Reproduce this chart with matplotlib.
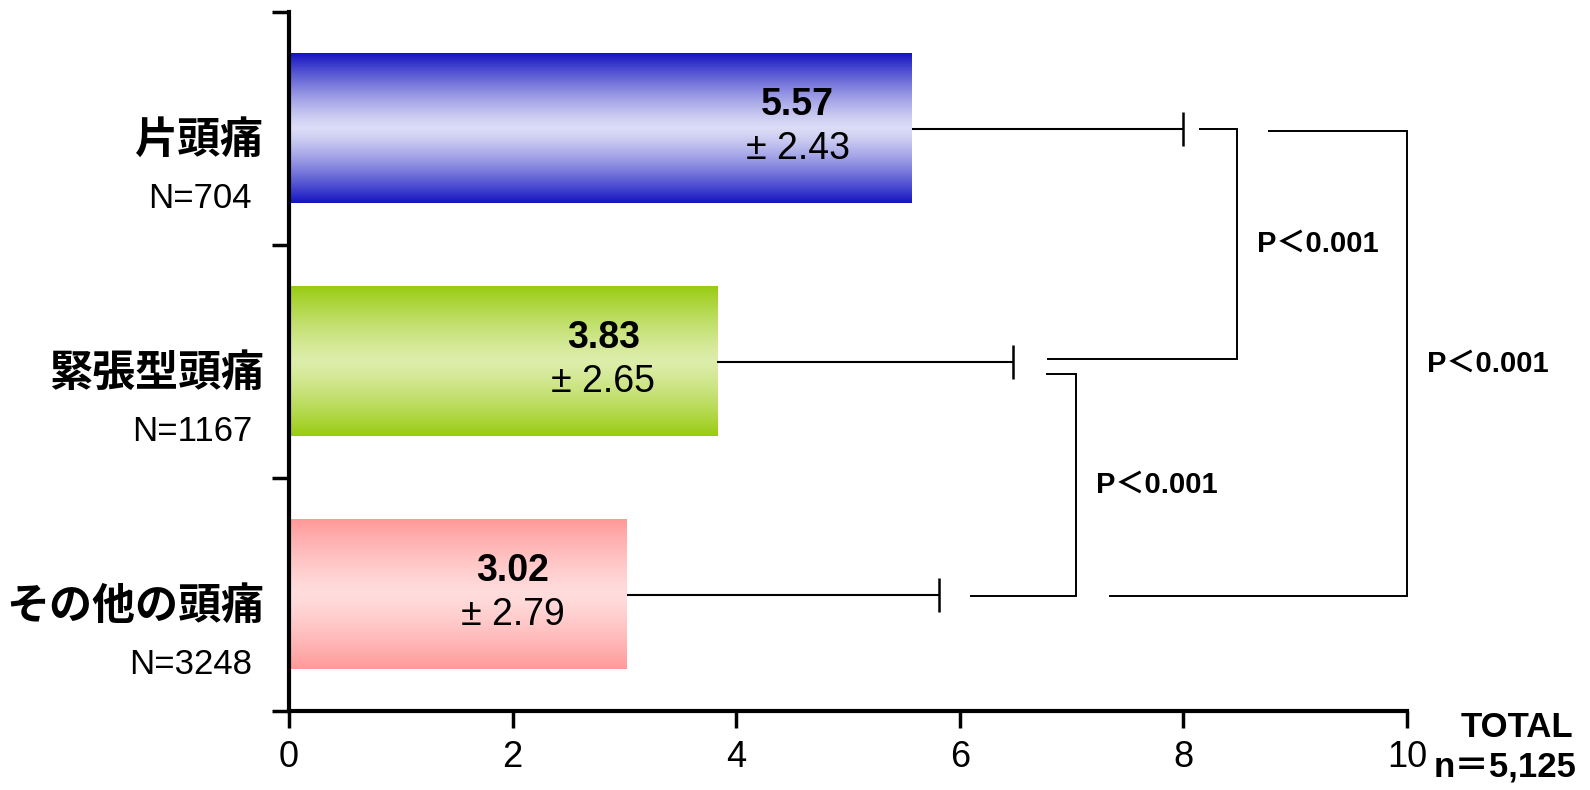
import numpy as np
import matplotlib
matplotlib.use('Agg')
import matplotlib.pyplot as plt
from matplotlib import font_manager as fm
from matplotlib.colors import to_rgb

# ---------------- data ----------------
categories = ['片頭痛', '緊張型頭痛', 'その他の頭痛']
n_labels = ['N=704', 'N=1167', 'N=3248']
means = [5.57, 3.83, 3.02]
sds = [2.43, 2.65, 2.79]
xticks = [0, 2, 4, 6, 8, 10]
comparisons = [(0, 1), (1, 2), (0, 2)]
p_labels = ['P＜0.001', 'P＜0.001', 'P＜0.001']
total_labels = ['TOTAL', 'n＝5,125']

# ---------------- style ----------------
edge_colors = ['#1414C2', '#99CC11', '#FF9999']
center_colors = ['#DCDCF6', '#DDEDAA', '#FFDCDC']

available = {f.name for f in fm.fontManager.ttflist}
NUM = 'Liberation Sans Narrow' if 'Liberation Sans Narrow' in available else 'Liberation Sans'
CJK = 'Noto Sans CJK JP'
plt.rcParams['font.family'] = [NUM, CJK, 'DejaVu Sans']

fig = plt.figure(figsize=(15.9, 7.9), dpi=100)
ax = fig.add_axes([289 / 1590, 1 - 711 / 790, (1407 - 289) / 1590, (711 - 12) / 790])

ypos = np.arange(len(categories)) + 0.5
means_a = np.array(means)
sds_a = np.array(sds)
tips = means_a + sds_a

bars = ax.barh(ypos, means_a, height=0.64, color='none', edgecolor='none', zorder=2)
t = np.abs(np.linspace(-1, 1, 300))
for bar, ec, cc in zip(bars, edge_colors, center_colors):
    x0, y0, w, h = bar.get_x(), bar.get_y(), bar.get_width(), bar.get_height()
    e = np.array(to_rgb(ec))
    c = np.array(to_rgb(cc))
    prof = np.clip(t, 0, 1) ** 1.3
    grad = c[None, :] + (e - c)[None, :] * prof[:, None]
    ax.imshow(grad[:, None, :], extent=(x0, x0 + w, y0 + h, y0), aspect='auto',
              interpolation='bilinear', zorder=2)

# value labels inside bars
for y, m, s in zip(ypos, means_a, sds_a):
    ax.text(m - 1.02, y - 0.10, f'{m:.2f}', ha='center', va='center',
            fontsize=27, fontweight='bold', zorder=4)
    ax.text(m - 1.02, y + 0.09, f'± {s:.2f}', ha='center', va='center',
            fontsize=27, zorder=4)

# error bars (one-sided)
ax.hlines(ypos, means_a, tips, color='black', lw=1.5, zorder=3)
ax.plot(tips, ypos, ls='none', marker='|', markersize=25, mew=1.8, color='black', zorder=3)

# significance brackets
bracket_x = [8.48, 7.04, 10.0]
top_gap = [0.15, 0.30, 0.77]
bot_gap = [0.31, 0.29, 1.53]
top_dy = [0.0, 0.055, 0.01]
bot_dy = [-0.01, 0.005, 0.005]
for (i, j), bx, tg, bg, tdy, bdy, lab in zip(comparisons, bracket_x, top_gap, bot_gap,
                                              top_dy, bot_dy, p_labels):
    ya = ypos[i] + tdy
    yb = ypos[j] + bdy
    ax.plot([tips[i] + tg, bx, bx, tips[j] + bg], [ya, ya, yb, yb], color='black',
            lw=1.4, clip_on=False, zorder=3, solid_joinstyle='miter')
    ax.text(bx + 0.72, (ya + yb) / 2, lab, ha='center', va='center', fontsize=21,
            fontweight='bold', clip_on=False, family=['Liberation Sans', CJK])

# category labels
for y, cat, nl in zip(ypos, categories, n_labels):
    ax.text(-0.22, y + 0.05, cat, ha='right', va='center', fontsize=31,
            fontweight='bold', family=[CJK], clip_on=False)
    ax.text(-0.33, y + 0.30, nl, ha='right', va='center', fontsize=25,
            family=['Liberation Sans'], clip_on=False)

# TOTAL label
ax.text(10.98, 3.07, total_labels[0], ha='center', va='center', fontsize=25,
        fontweight='bold', family=['Liberation Sans', CJK], clip_on=False)
ax.text(10.88, 3.24, total_labels[1], ha='center', va='center', fontsize=25,
        fontweight='bold', family=['Liberation Sans', CJK], clip_on=False)

# axes styling
ax.set_xlim(0, 10)
ax.set_ylim(3, 0)
ax.set_xticks(xticks)
ax.set_xticklabels([str(v) for v in xticks])
ax.set_yticks([0, 1, 2, 3])
ax.set_yticklabels([])
for side in ['top', 'right']:
    ax.spines[side].set_visible(False)
for side in ['left', 'bottom']:
    ax.spines[side].set_linewidth(3)
ax.tick_params(axis='both', direction='out', length=12, width=2.5, labelsize=26, pad=9)
ax.set_facecolor('white')

fig.savefig('out.png', dpi=100, facecolor='white')
